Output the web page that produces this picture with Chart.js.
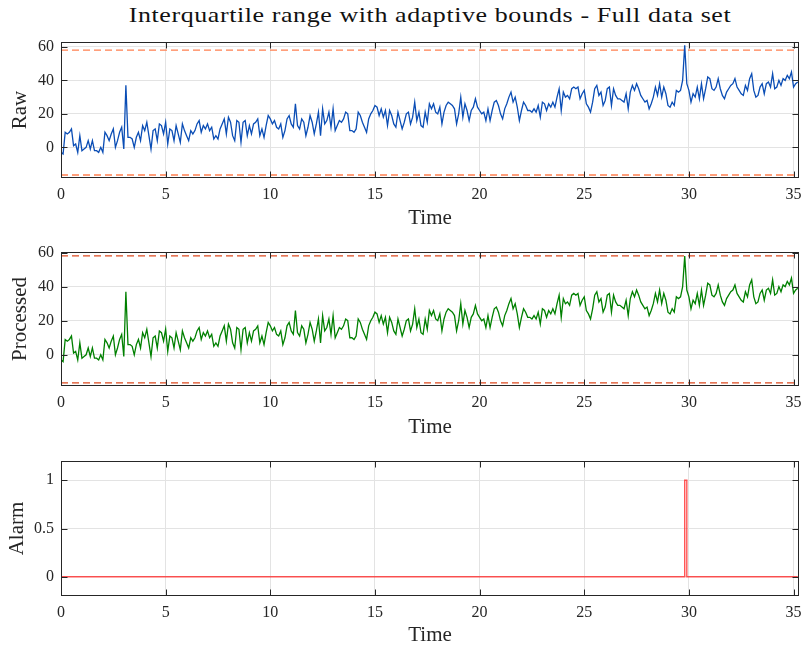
<!DOCTYPE html>
<html><head><meta charset="utf-8">
<script src="https://cdn.jsdelivr.net/npm/chart.js@4/dist/chart.umd.min.js"></script>
<style>
html,body{margin:0;padding:0;background:#fff;}
body{width:803px;height:648px;position:relative;overflow:hidden;}
#title{position:absolute;left:61px;width:738px;top:2px;text-align:center;font-family:"Liberation Serif",serif;font-size:22px;letter-spacing:0.5px;color:#111;white-space:nowrap;transform:scaleX(1.18);transform-origin:50% 50%;}
canvas{position:absolute;left:0;}
</style></head><body>
<div id="title">Interquartile range with adaptive bounds - Full data set</div>
<canvas id="c1" width="803" height="202" style="top:30px;width:803px;height:202px"></canvas>
<canvas id="c2" width="803" height="202" style="top:240px;width:803px;height:202px"></canvas>
<canvas id="c3" width="803" height="198" style="top:450px;width:803px;height:198px"></canvas>
<script>
const sampleStep = 0.1;
const raw = [
-3,-4,9,8,9,11,1,2,-3,7,
-2,-1,0,4,-1,4,-2,-2,-3,0,
-3,9,7,4,8,11,0,4,9,12,
-1,37,6,6,5,0,6,9,4,13,
10,15,7,-1,10,11,4,14,13,8,
15,2,11,10,4,13,8,3,14,10,
7,4,10,8,10,14,16,9,13,11,
14,10,12,5,7,5,11,14,17,8,
18,15,7,4,16,15,3,15,16,7,
13,8,14,15,17,7,11,6,13,19,
17,14,16,12,11,14,6,10,17,19,
14,12,26,13,11,17,15,7,12,19,
15,8,14,21,7,23,14,16,21,12,
23,10,13,16,15,17,21,20,10,10,
9,11,21,19,15,12,9,17,20,22,
25,24,19,23,18,22,13,22,19,14,
12,21,16,11,15,20,21,14,18,27,
16,21,13,12,21,15,26,23,26,21,
20,24,14,21,25,27,26,25,23,14,
20,30,18,26,22,16,22,24,29,24,
22,20,21,16,23,16,22,27,28,25,
20,17,23,26,30,33,27,30,24,16,
22,27,25,22,22,21,23,21,25,18,
27,26,22,26,24,27,24,30,35,22,
33,30,31,29,35,36,35,36,29,32,
34,26,24,21,27,35,37,31,33,25,
28,35,36,25,35,31,29,29,28,27,
32,23,33,37,34,38,35,31,29,27,
28,23,26,30,36,31,38,30,36,32,
25,24,27,25,34,33,34,40,61,38,
34,27,32,30,36,29,38,29,35,42,
41,35,34,36,41,35,31,29,33,35,
37,38,41,36,34,32,31,37,34,41,
44,34,30,31,36,38,32,38,39,36,
44,35,36,40,37,41,40,43,41,45,
36,38,39
];
const processed = [
-3,-4,9,8,9,11,1,2,-3,7,
-2,-1,0,4,-1,4,-2,-2,-3,0,
-3,9,7,4,8,11,0,4,9,12,
-1,37,6,6,5,0,6,9,4,13,
10,15,7,-1,10,11,4,14,13,8,
15,2,11,10,4,13,8,3,14,10,
7,4,10,8,10,14,16,9,13,11,
14,10,12,5,7,5,11,14,17,8,
18,15,7,4,16,15,3,15,16,7,
13,8,14,15,17,7,11,6,13,19,
17,14,16,12,11,14,6,10,17,19,
14,12,26,13,11,17,15,7,12,19,
15,8,14,21,7,23,14,16,21,12,
23,10,13,16,15,17,21,20,10,10,
9,11,21,19,15,12,9,17,20,22,
25,24,19,23,18,22,13,22,19,14,
12,21,16,11,15,20,21,14,18,27,
16,21,13,12,21,15,26,23,26,21,
20,24,14,21,25,27,26,25,23,14,
20,30,18,26,22,16,22,24,29,24,
22,20,21,16,23,16,22,27,28,25,
20,17,23,26,30,33,27,30,24,16,
22,27,25,22,22,21,23,21,25,18,
27,26,22,26,24,27,24,30,35,22,
33,30,31,29,35,36,35,36,29,32,
34,26,24,21,27,35,37,31,33,25,
28,35,36,25,35,31,29,29,28,27,
32,23,33,37,34,38,35,31,29,27,
28,23,26,30,36,31,38,30,36,32,
25,24,27,25,34,33,34,40,58,38,
34,27,32,30,36,29,38,29,35,42,
41,35,34,36,41,35,31,29,33,35,
37,38,41,36,34,32,31,37,34,41,
44,34,30,31,36,38,32,38,39,36,
44,35,36,40,37,41,40,43,41,45,
36,38,39
];
const upperBound = 58;
const lowerBound = -16.5;
const alarmTime = [0, 29.8, 29.9, 35.2];
const alarmValue = [0, 1, 0, 0];
const timeTicks = [0, 5, 10, 15, 20, 25, 30, 35];
const rawTicks = [0, 20, 40, 60];
const processedTicks = [0, 20, 40, 60];
const alarmTicks = [0, 0.5, 1];
const timeRange = [0, 35.26];
const rawRange = [-18.3, 62.9];
const processedRange = [-18.3, 60.3];
const alarmRange = [-0.2, 1.2];

const time = raw.map((_, i) => Math.round(i * sampleStep * 10) / 10);
const pts = (xs, ys) => ys.map((v, i) => ({x: xs[i], y: v}));
const FONT = '"Liberation Serif", "Times New Roman", serif';
const INK = '#262626';

const framePlugin = {
  id: 'frame',
  afterDraw(chart) {
    const {ctx, chartArea: a} = chart;
    const x = chart.scales.x, y = chart.scales.y;
    ctx.save();
    ctx.strokeStyle = INK; ctx.lineWidth = 1;
    const L = Math.round(a.left) + 0.5, R = Math.round(a.right) - 0.5;
    const T = Math.round(a.top) + 0.5, B = Math.round(a.bottom) - 0.5;
    ctx.beginPath();
    x.ticks.forEach(t => {
      const px = Math.round(x.getPixelForValue(t.value)) + 0.5;
      ctx.moveTo(px, B); ctx.lineTo(px, B - 6);
      ctx.moveTo(px, T); ctx.lineTo(px, T + 6);
    });
    y.ticks.forEach(t => {
      const py = Math.round(y.getPixelForValue(t.value)) + 0.5;
      ctx.moveTo(L, py); ctx.lineTo(L + 6, py);
      ctx.moveTo(R, py); ctx.lineTo(R - 6, py);
    });
    ctx.stroke();
    ctx.strokeRect(L, T, R - L, B - T);
    ctx.restore();
  }
};

function makeChart(id, datasets, yRange, yTicks, yTitle, padTop, xHeight, xTitlePad, yTitlePad) {
  const tickSet = (vals) => (s) => { s.ticks = vals.map(v => ({value: v})); };
  return new Chart(document.getElementById(id), {
    type: 'line',
    data: {datasets},
    plugins: [framePlugin],
    options: {
      responsive: false, animation: false, devicePixelRatio: 1,
      layout: {padding: {top: padTop, right: 4, left: 0, bottom: 0}},
      plugins: {legend: {display: false}, tooltip: {enabled: false}, title: {display: false}},
      elements: {point: {radius: 0}, line: {tension: 0}},
      scales: {
        x: {
          type: 'linear', min: timeRange[0], max: timeRange[1],
          afterBuildTicks: tickSet(timeTicks),
          afterFit: (s) => { s.height = xHeight; s.paddingLeft = 0; s.paddingRight = 0; },
          grid: {color: '#E3E3E3', drawTicks: false},
          border: {display: false},
          ticks: {padding: 7, color: INK, font: {family: FONT, size: 16}, maxRotation: 0, autoSkip: false,
                  callback: (v) => String(v)},
          title: {display: true, text: 'Time', color: INK, font: {family: FONT, size: 21}, padding: {top: 0, bottom: xTitlePad}}
        },
        y: {
          type: 'linear', min: yRange[0], max: yRange[1],
          afterBuildTicks: tickSet(yTicks),
          afterFit: (s) => { s.width = 61; s.paddingTop = 0; s.paddingBottom = 0; },
          grid: {color: '#E3E3E3', drawTicks: false},
          border: {display: false},
          ticks: {padding: 7, color: INK, font: {family: FONT, size: 16}, autoSkip: false,
                  callback: (v) => String(v)},
          title: {display: true, text: yTitle, color: INK, font: {family: FONT, size: 21}, padding: {top: yTitlePad, bottom: 0}}
        }
      }
    }
  });
}

const boundLine = (v, color) => ({
  data: pts(timeRange, [v, v]), borderColor: color, borderWidth: 1.3, borderDash: [7, 4], pointRadius: 0
});

makeChart('c1', [
  {data: pts(time, raw), borderColor: '#0A4DB5', borderWidth: 1.3, pointRadius: 0},
  boundLine(upperBound, '#FF8050'),
  boundLine(lowerBound, '#FF8050')
], rawRange, rawTicks, 'Raw', 12, 54, 1, 8);

makeChart('c2', [
  {data: pts(time, processed), borderColor: '#008000', borderWidth: 1.3, pointRadius: 0},
  boundLine(upperBound, '#DD4A1F'),
  boundLine(lowerBound, '#DD4A1F')
], processedRange, processedTicks, 'Processed', 12, 56, 2, 8);

makeChart('c3', [
  {data: pts(alarmTime, alarmValue), borderColor: 'rgba(255,30,30,0.75)', borderWidth: 1.4, pointRadius: 0, stepped: 'before'}
], alarmRange, alarmTicks, 'Alarm', 11, 52, 0, 5);
</script>
</body></html>
